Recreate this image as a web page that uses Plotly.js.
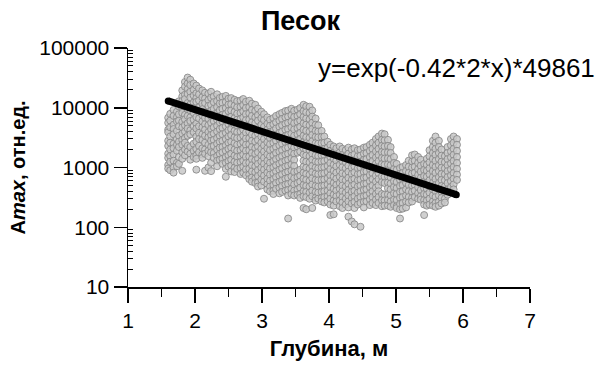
<!DOCTYPE html>
<html>
<head>
<meta charset="utf-8">
<script src="https://cdn.plot.ly/plotly-3.0.1.min.js"></script>
<style>
  html, body { margin: 0; padding: 0; background: #fff; }
  #chart { width: 601px; height: 367px; }
</style>
</head>
<body>
<div id="chart"></div>
<script>
// Amplitude readings (Amax, rel. units) grouped by depth band.
// Each row: [depth in m, amplitude, amplitude, ...]
const sandShallow = [
  [1.60, 6800, 5600, 4300, 3900, 2800, 2300, 1700, 1450, 1100, 960],
  [1.63, 7900, 6100, 4700, 3300, 2600, 2000, 1550, 1250, 900],
  [1.68, 9200, 7300, 5200, 4400, 3600, 2500, 2100, 1650, 1300, 1000, 820],
  [1.73, 8600, 6900, 5900, 4100, 3000, 2400, 1900, 1200, 1050],
  [1.76, 12800, 10500, 7800, 6100, 4900, 3400, 2700, 2200, 1500, 1150],
  [1.81, 19500, 15500, 13000, 9800, 8200, 5800, 4700, 3700, 2900, 2400, 1800, 1400, 880],
  [1.85, 27000, 22500, 16500, 14000, 10800, 7600, 6400, 5100, 4000, 3100, 2600, 2000, 1600],
  [1.89, 32000, 25500, 20500, 17000, 12000, 9400, 7300, 5500, 4500, 3400, 2300, 1850],
  [1.93, 29500, 24000, 18500, 14800, 11300, 9000, 6900, 6000, 4200, 3600, 2200, 1700, 1350],
  [1.98, 25500, 20000, 16000, 12300, 10000, 8200, 6300, 4900, 3900, 2500, 1900, 1500],
  [2.02, 23500, 17500, 14500, 12500, 9200, 7000, 5400, 4500, 3300, 2700, 2050, 1600, 1400, 920],
  [2.06, 21000, 16800, 13200, 10200, 8300, 6600, 4900, 3800, 3000, 2300, 1800],
  [2.11, 19500, 15000, 11700, 9500, 7500, 5900, 4700, 3600, 2900, 2100, 1650, 1450],
  [2.15, 17800, 14300, 12000, 8700, 6800, 5300, 4300, 3400, 2600, 2000, 1700, 880],
  [2.20, 17200, 13500, 10700, 8300, 6500, 5100, 3900, 3200, 2400, 1900, 1550, 1000],
  [2.24, 18500, 14700, 11200, 8900, 7300, 5600, 4400, 3500, 2800, 2200, 1800, 1200, 870],
  [2.28, 15500, 12400, 9600, 7700, 6000, 4700, 3700, 2900, 2300, 1750, 1450],
  [2.33, 16800, 13000, 10300, 8100, 6300, 5000, 4000, 3100, 2500, 2000, 1550, 1300, 1050],
  [2.37, 14600, 11800, 9100, 7200, 5700, 4400, 3400, 2700, 2150, 1700, 1350],
  [2.41, 15200, 12100, 9600, 7600, 5900, 4600, 3600, 2800, 2200, 1800, 1400, 1150],
  [2.46, 15800, 12500, 9900, 7900, 6200, 4900, 3800, 3000, 2350, 1900, 1500, 1200, 950, 700],
  [2.50, 14200, 11300, 8800, 6800, 5300, 4200, 3300, 2600, 2050, 1600, 1280, 1030],
  [2.54, 14500, 11500, 9000, 7100, 5600, 4400, 3500, 2700, 2150, 1700, 1350, 1080, 860],
  [2.59, 13600, 10800, 8500, 6700, 5200, 4100, 3200, 2550, 2000, 1580, 1250, 990, 840],
  [2.63, 12900, 10200, 8000, 6300, 5000, 3900, 3100, 2400, 1900, 1500, 1200, 950],
  [2.68, 13200, 10400, 8200, 6500, 5100, 4000, 3150, 2500, 1950, 1550, 1230, 980, 780],
  [2.72, 14000, 11100, 8700, 6900, 5400, 4300, 3400, 2650, 2100, 1650, 1300, 1030, 820],
  [2.76, 12600, 9900, 7800, 6200, 4900, 3850, 3050, 2400, 1900, 1500, 1180, 930, 740],
  [2.81, 13100, 10300, 8100, 6400, 5000, 4000, 3100, 2450, 1950, 1530, 1210, 960, 760, 640],
  [2.85, 11700, 9200, 7300, 5700, 4500, 3550, 2800, 2200, 1750, 1380, 1090, 860, 680, 580],
  [2.90, 11200, 8800, 6900, 5500, 4300, 3400, 2700, 2100, 1680, 1320, 1040, 830, 660, 550]
];

const sandMiddle = [
  [2.94, 9700, 7500, 6100, 4600, 3700, 2900, 2250, 1800, 1400, 1150, 900, 720, 560, 480],
  [2.99, 8600, 6700, 5200, 4200, 3300, 2600, 2050, 1600, 1270, 1000, 800, 630, 500],
  [3.03, 7800, 6200, 4800, 3800, 3000, 2350, 1850, 1450, 1150, 920, 730, 580, 300],
  [3.08, 6900, 5400, 4300, 3400, 2650, 2100, 1650, 1300, 1030, 820, 650, 520, 430],
  [3.12, 6300, 5000, 3900, 3100, 2450, 1950, 1530, 1200, 960, 760, 600, 480, 400],
  [3.17, 6700, 5300, 4150, 3300, 2600, 2050, 1600, 1280, 1010, 800, 640, 510, 410, 360],
  [3.21, 7300, 5700, 4500, 3550, 2800, 2200, 1750, 1380, 1090, 860, 690, 550, 440],
  [3.26, 7800, 6100, 4800, 3800, 3000, 2350, 1850, 1470, 1160, 920, 730, 580, 460, 370],
  [3.30, 8200, 6500, 5100, 4000, 3150, 2500, 1950, 1550, 1230, 970, 770, 610, 490, 390],
  [3.35, 8800, 6900, 5400, 4300, 3350, 2650, 2100, 1650, 1300, 1040, 820, 650, 520, 410],
  [3.39, 9000, 7100, 5600, 4400, 3500, 2750, 2150, 1700, 1350, 1070, 850, 670, 530, 420, 340, 140],
  [3.44, 9600, 7500, 5900, 4700, 3700, 2900, 2300, 1800, 1430, 1130, 890, 710, 560, 440, 360],
  [3.48, 8900, 7000, 5500, 4350, 3400, 2700, 2150, 1700, 1340, 1060, 840, 660, 520, 410, 340],
  [3.53, 9300, 7300, 5800, 4550, 3600, 2850, 2250, 1770, 870, 690, 550, 430, 350],
  [3.57, 9900, 7800, 6100, 4800, 3800, 3000, 2350, 1850, 920, 730, 580, 460, 360, 310],
  [3.62, 11200, 8800, 7000, 5500, 4300, 3400, 2650, 2100, 1650, 1300, 1030, 820, 650, 510, 400, 330, 210],
  [3.66, 10600, 8400, 6600, 5200, 4100, 3200, 2550, 2000, 1580, 1250, 990, 780, 620, 490, 390, 320, 200],
  [3.71, 10400, 8200, 6400, 5100, 4000, 3150, 2500, 1950, 1550, 1220, 960, 760, 600, 480, 380, 300],
  [3.75, 9000, 7100, 5600, 4400, 3500, 2750, 2150, 1700, 1350, 1060, 840, 660, 520, 410, 330, 210],
  [3.80, 6600, 5200, 4100, 3250, 2550, 2000, 1600, 1260, 1000, 790, 620, 490, 390, 310, 280],
  [3.84, 5100, 4000, 3200, 2500, 1980, 1560, 1230, 970, 770, 610, 480, 380, 300],
  [3.89, 4100, 3250, 2550, 2000, 1600, 1260, 1000, 790, 620, 490, 390, 310, 270],
  [3.93, 3300, 2600, 2050, 1620, 1280, 1010, 800, 630, 500, 400, 320, 260],
  [3.98, 2700, 2150, 1700, 1340, 1060, 840, 660, 520, 410, 330, 270],
  [4.02, 2400, 1900, 1500, 1190, 940, 740, 590, 470, 370, 300, 240, 160],
  [4.07, 2250, 1780, 1400, 1110, 880, 700, 550, 440, 350, 280, 230, 165],
  [4.11, 2100, 1660, 1310, 1040, 820, 650, 510, 410, 330, 270],
  [4.16, 2250, 1780, 1410, 1110, 880, 700, 550, 440, 350, 280, 225],
  [4.20, 2050, 1620, 1280, 1010, 800, 630, 500, 400, 320, 260, 210],
  [4.25, 1950, 1550, 1220, 970, 770, 610, 480, 380, 300, 240],
  [4.29, 2150, 1700, 1350, 1070, 850, 670, 530, 420, 340, 270, 215, 150],
  [4.34, 2000, 1580, 1250, 990, 780, 620, 490, 390, 310, 250, 125],
  [4.38, 2100, 1660, 1320, 1040, 830, 650, 520, 410, 330, 265, 210, 112],
  [4.43, 1950, 1540, 1220, 970, 770, 610, 480, 380, 300, 240]
];

const sandDeep = [
  [4.47, 2000, 1580, 1250, 1000, 790, 630, 500, 400, 320, 255, 102],
  [4.52, 2150, 1700, 1340, 1060, 840, 670, 530, 420, 330, 265, 215],
  [4.56, 2200, 1740, 1380, 1090, 860, 680, 540, 430, 340, 270],
  [4.61, 2400, 1900, 1500, 1190, 940, 750, 590, 470, 370, 295, 235],
  [4.65, 2600, 2050, 1620, 1280, 1010, 800, 640, 500, 400, 320, 255],
  [4.70, 3000, 2350, 1860, 1470, 1160, 920, 730, 580, 460, 360, 290, 235],
  [4.74, 3300, 2600, 2050, 1620, 1280, 1010, 800, 640, 500, 400, 320, 255],
  [4.79, 3700, 2900, 2300, 1820, 1440, 1140, 900, 710, 570, 360, 285, 225],
  [4.83, 3600, 2850, 2250, 1780, 1410, 1110, 880, 700, 550, 350, 280, 230],
  [4.88, 2900, 2300, 1800, 1430, 1130, 900, 710, 560, 450, 355, 285, 230],
  [4.92, 2200, 1750, 1380, 1090, 860, 680, 540, 430, 340, 270, 220],
  [4.97, 1500, 1190, 940, 750, 590, 470, 370, 290, 235],
  [5.01, 1150, 910, 720, 570, 450, 360, 285, 225, 210],
  [5.06, 980, 780, 620, 490, 390, 310, 245, 200, 140],
  [5.10, 1020, 810, 640, 510, 400, 320, 255, 205],
  [5.15, 1100, 870, 690, 550, 430, 340, 270, 215],
  [5.19, 1300, 1030, 810, 640, 510, 400, 320, 260],
  [5.24, 1600, 1260, 1000, 790, 630, 500, 390, 310, 270],
  [5.28, 1650, 1300, 1030, 820, 650, 510, 410, 320],
  [5.33, 1500, 1190, 940, 750, 590, 470, 370, 300],
  [5.37, 1350, 1070, 850, 670, 530, 420, 330, 290],
  [5.42, 1150, 910, 720, 570, 450, 360, 285, 240, 160],
  [5.46, 1400, 1110, 880, 700, 550, 440, 350, 280, 230],
  [5.50, 1950, 1540, 1220, 970, 770, 610, 480, 380, 300, 240],
  [5.55, 2800, 2200, 1750, 1390, 1100, 870, 690, 550, 430, 340, 270, 230],
  [5.59, 3300, 2600, 2050, 1630, 1290, 1020, 810, 640, 510, 400, 320, 255, 220],
  [5.64, 2800, 2200, 1750, 1380, 1090, 870, 690, 550, 430, 340, 270, 230],
  [5.68, 2000, 1580, 1250, 990, 780, 620, 490, 390, 310, 250],
  [5.73, 1550, 1230, 970, 770, 610, 480, 380, 300, 260],
  [5.77, 2200, 1750, 1380, 1090, 870, 690, 550, 430, 350],
  [5.82, 3000, 2350, 1860, 1480, 1170, 930, 740, 590, 470, 390],
  [5.86, 3300, 2600, 2050, 1630, 1290, 1020, 810, 650, 520, 430],
  [5.91, 3000, 2400, 1900, 1500, 1190, 950, 760, 620]
];

// Exponential attenuation fit: y = exp(-0.42*2*x)*49861
const fitAlpha = 0.42;
const fitA0 = 49861;
const fitDepth = [1.6, 5.9];

const yTickVals = [10, 100, 1000, 10000, 100000];
const yTickText = ['10', '100', '1000', '10000', '100000'];
const xTickVals = [1, 2, 3, 4, 5, 6, 7];

// flatten the rows into scatter coordinates
const depth = [];
const amp = [];
[sandShallow, sandMiddle, sandDeep].forEach(band => {
  band.forEach(row => {
    for (let i = 1; i < row.length; i++) {
      depth.push(row[0]);
      amp.push(row[i]);
    }
  });
});

const fitAmp = fitDepth.map(x => Math.exp(-fitAlpha * 2 * x) * fitA0);

// minor tick positions on the log axis (2..9 within each decade)
const yMinor = [];
for (let d = 10; d < 100000; d *= 10) {
  for (let k = 2; k <= 9; k++) yMinor.push(d * k);
}

const FONT = 'Liberation Sans, Arial, Helvetica, sans-serif';

const traces = [
  {
    x: depth, y: amp,
    type: 'scatter', mode: 'markers',
    marker: {
      size: 7,
      color: 'rgba(200,200,200,0.85)',
      line: { color: 'rgba(135,135,135,0.85)', width: 1 }
    },
    hoverinfo: 'skip'
  },
  {
    x: fitDepth, y: fitAmp,
    type: 'scatter', mode: 'lines+markers',
    line: { color: '#000', width: 7 },
    marker: { color: '#000', size: 7 },
    hoverinfo: 'skip'
  }
];

const layout = {
  width: 601, height: 367,
  margin: { l: 128, r: 71, t: 48, b: 80 },
  paper_bgcolor: '#fff', plot_bgcolor: '#fff',
  showlegend: false,
  font: { family: FONT, color: '#000', size: 21 },
  title: {
    text: 'Песок',
    font: { family: FONT, size: 27, weight: 'bold', color: '#000' },
    x: 0.5, xanchor: 'center',
    y: 1 - 21 / 367, yanchor: 'middle'
  },
  xaxis: {
    range: [1, 7],
    tickmode: 'array', tickvals: xTickVals,
    ticks: 'outside', ticklen: 14, tickwidth: 1.5, tickcolor: '#000',
    minor: { dtick: 0.5, tick0: 1, ticks: 'outside', ticklen: 8, tickwidth: 1.5, tickcolor: '#000' },
    showline: true, linecolor: '#000', linewidth: 1.5,
    showgrid: false, zeroline: false,
    tickfont: { family: FONT, size: 21, color: '#000' },
    title: {
      text: 'Глубина, м',
      font: { family: FONT, size: 22, weight: 'bold', color: '#000' },
      standoff: 10
    }
  },
  yaxis: {
    type: 'log',
    range: [1, 5],
    tickmode: 'array', tickvals: yTickVals, ticktext: yTickText,
    ticks: 'outside', ticklen: 13, tickwidth: 1.5, tickcolor: '#000',
    minor: { tickmode: 'array', tickvals: yMinor, ticks: 'inside', ticklen: 5, tickwidth: 1, tickcolor: '#000' },
    showline: true, linecolor: '#000', linewidth: 1.5,
    showgrid: false, zeroline: false,
    tickfont: { family: FONT, size: 21, color: '#000' },
    title: {
      text: 'A<i>max</i>, отн.ед.',
      font: { family: FONT, size: 20, weight: 'bold', color: '#000' },
      standoff: 8
    }
  },
  annotations: [{
    text: 'y=exp(-0.42*2*x)*49861',
    xref: 'paper', yref: 'paper',
    x: (597 - 128) / 402, xanchor: 'right',
    y: (287 - 68) / 239, yanchor: 'middle',
    showarrow: false,
    font: { family: FONT, size: 26, color: '#000' }
  }]
};

Plotly.newPlot('chart', traces, layout, { staticPlot: true, displayModeBar: false });
</script>
</body>
</html>
